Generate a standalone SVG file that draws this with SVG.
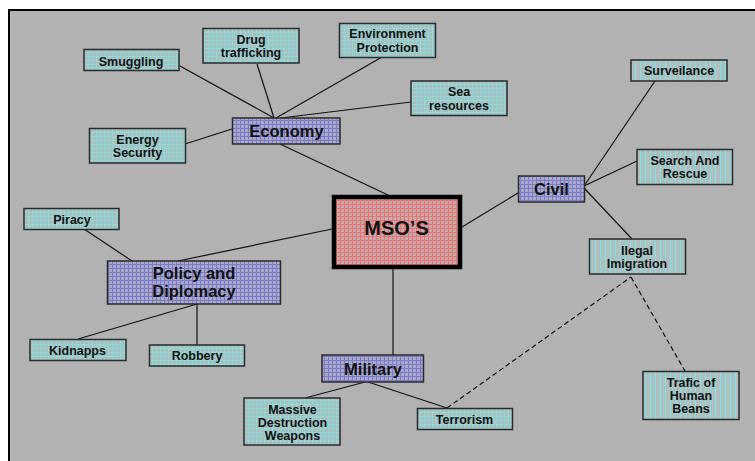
<svg xmlns="http://www.w3.org/2000/svg" width="755" height="461" viewBox="0 0 755 461">
<style>
.t{font-family:"Liberation Sans",Arial,sans-serif;font-weight:bold;fill:#111;text-anchor:middle}
.s{font-size:12.5px}
.m{font-size:16.5px}
.b{stroke:#2a2a2a;stroke-width:1.5}
.cy{fill:url(#pc)}
.cv{fill:url(#pv)}
.pu{fill:url(#pp)}
.ln{stroke:#111;stroke-width:1.2;fill:none}
.dl{stroke:#111;stroke-width:1.2;fill:none;stroke-dasharray:5,3}
</style>
<defs>
<pattern id="pc" width="4" height="4" patternUnits="userSpaceOnUse">
<rect width="4" height="4" fill="#abbdbd"/>
<rect width="4" height="1" fill="#8adada"/>
<rect width="1" height="4" fill="#8adada"/>
</pattern>
<pattern id="pv" width="5" height="4" patternUnits="userSpaceOnUse">
<rect width="5" height="4" fill="#afbebe"/>
<rect width="1" height="4" fill="#78e6e6"/>
</pattern>
<pattern id="pp" width="4" height="4" patternUnits="userSpaceOnUse">
<rect width="4" height="4" fill="#aaaac2"/>
<rect width="4" height="1" fill="#7a7ad2"/>
<rect width="1" height="4" fill="#7a7ad2"/>
</pattern>
<pattern id="pr" width="4" height="4" patternUnits="userSpaceOnUse">
<rect width="4" height="4" fill="#c2acac"/>
<rect width="4" height="1" fill="#ee7070"/>
<rect width="1" height="4" fill="#ee7070"/>
</pattern>
</defs>
<rect x="0" y="0" width="755" height="461" fill="#ffffff"/>
<rect x="9" y="10" width="760" height="460" fill="#b2b2b2" stroke="#000" stroke-width="2"/>
<g id="connectors">
<line class="ln" x1="180" y1="66" x2="274" y2="118"/>
<line class="ln" x1="257" y1="64" x2="274" y2="118"/>
<line class="ln" x1="382" y1="57" x2="276" y2="118"/>
<line class="ln" x1="411" y1="102" x2="281" y2="118"/>
<line class="ln" x1="185" y1="144" x2="232" y2="129"/>
<line class="ln" x1="280" y1="144" x2="388" y2="195"/>
<line class="ln" x1="178" y1="261" x2="332" y2="229"/>
<line class="ln" x1="84" y1="229" x2="132" y2="261"/>
<line class="ln" x1="78" y1="339" x2="197" y2="304"/>
<line class="ln" x1="197" y1="304" x2="197" y2="345"/>
<line class="ln" x1="393" y1="269" x2="393" y2="355"/>
<line class="ln" x1="365" y1="382" x2="305" y2="398"/>
<line class="ln" x1="368" y1="382" x2="447" y2="408"/>
<line class="ln" x1="462" y1="227" x2="518" y2="193"/>
<line class="ln" x1="655" y1="81" x2="584" y2="186"/>
<line class="ln" x1="637" y1="161" x2="584" y2="186"/>
<line class="ln" x1="584" y1="188" x2="632" y2="239"/>
<line class="dl" x1="447" y1="408" x2="631" y2="277"/>
<line class="dl" x1="631" y1="277" x2="685" y2="371"/>
</g>
<g id="smuggling"><rect class="cy b" x="84" y="49.5" width="95" height="21"/><text class="t s" x="131" y="65.5">Smuggling</text></g>
<g id="drug-trafficking"><rect class="cy b" x="203" y="28.5" width="96" height="34.5"/><text class="t s" x="251" y="43.5">Drug</text><text class="t s" x="251" y="56.5">trafficking</text></g>
<g id="environment-protection"><rect class="cy b" x="339.5" y="23.5" width="96" height="34"/><text class="t s" x="387.5" y="38">Environment</text><text class="t s" x="387.5" y="51.5">Protection</text></g>
<g id="sea-resources"><rect class="cy b" x="411" y="81" width="96" height="34.5"/><text class="t s" x="459" y="96">Sea</text><text class="t s" x="459" y="110">resources</text></g>
<g id="energy-security"><rect class="cy b" x="89.5" y="128.5" width="96" height="34.5"/><text class="t s" x="137.5" y="144">Energy</text><text class="t s" x="137.5" y="157">Security</text></g>
<g id="economy"><rect class="pu b" x="232.5" y="118" width="107.5" height="26"/><text class="t m" x="286.5" y="137">Economy</text></g>
<g id="msos"><rect x="334" y="197" width="126" height="70" fill="url(#pr)" stroke="#000" stroke-width="4.5"/><text class="t" x="396.5" y="234.5" style="font-size:20px">MSO’S</text></g>
<g id="piracy"><rect class="cy b" x="24" y="208.5" width="95" height="21"/><text class="t s" x="72" y="223.5">Piracy</text></g>
<g id="policy-and-diplomacy"><rect class="pu b" x="107.5" y="261" width="173" height="43"/><text class="t m" x="194" y="279">Policy and</text><text class="t m" x="194" y="297">Diplomacy</text></g>
<g id="kidnapps"><rect class="cy b" x="30" y="339.5" width="96" height="21"/><text class="t s" x="77.5" y="355">Kidnapps</text></g>
<g id="robbery"><rect class="cy b" x="149.5" y="345" width="95" height="21"/><text class="t s" x="197" y="360">Robbery</text></g>
<g id="military"><rect class="pu b" x="322" y="355" width="101.5" height="27"/><text class="t m" x="373" y="374.5">Military</text></g>
<g id="massive-destruction-weapons"><rect class="cy b" x="244" y="398" width="96" height="47"/><text class="t s" x="292.5" y="413.5">Massive</text><text class="t s" x="292.5" y="426.5">Destruction</text><text class="t s" x="292.5" y="439.5">Weapons</text></g>
<g id="terrorism"><rect class="cy b" x="417.5" y="408.5" width="95" height="21"/><text class="t s" x="464.5" y="423.5">Terrorism</text></g>
<g id="civil"><rect class="pu b" x="518.5" y="176" width="66" height="26"/><text class="t m" x="551.5" y="194.5">Civil</text></g>
<g id="surveilance"><rect class="cv b" x="631" y="60" width="96" height="21"/><text class="t s" x="679" y="75">Surveilance</text></g>
<g id="search-and-rescue"><rect class="cv b" x="637" y="149.5" width="95.5" height="35"/><text class="t s" x="685" y="165">Search And</text><text class="t s" x="685" y="178">Rescue</text></g>
<g id="ilegal-imigration"><rect class="cv b" x="589.5" y="239" width="96" height="35"/><text class="t s" x="637" y="254.5">Ilegal</text><text class="t s" x="637" y="267.5">Imigration</text></g>
<g id="trafic-of-human-beans"><rect class="cv b" x="643" y="371.5" width="96" height="48"/><text class="t s" x="691" y="387">Trafic of</text><text class="t s" x="691" y="400">Human</text><text class="t s" x="691" y="412.5">Beans</text></g>
</svg>
